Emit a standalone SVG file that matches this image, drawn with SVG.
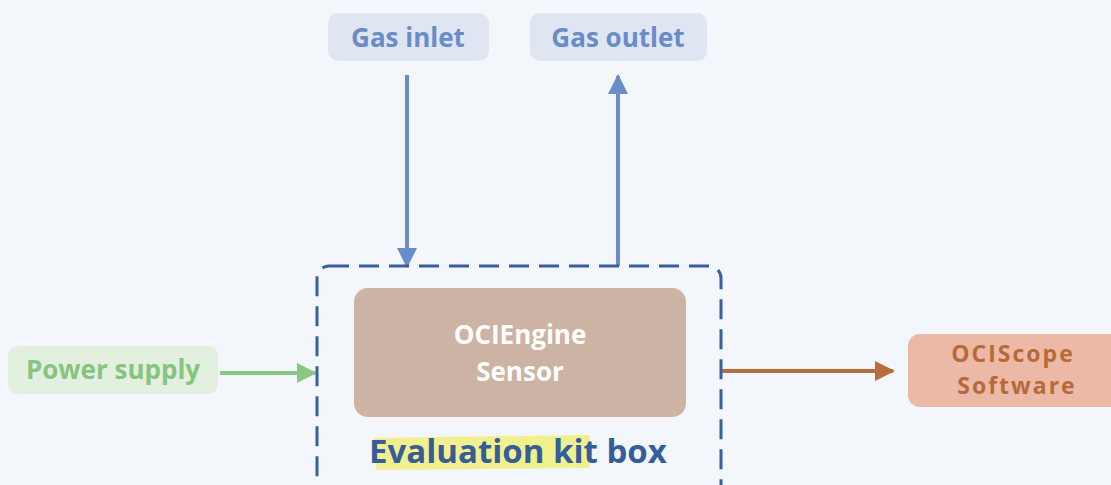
<svg xmlns="http://www.w3.org/2000/svg" width="1111" height="485" viewBox="0 0 1111 485">
<defs>
<style>
text{font-family:"Open Sans","DejaVu Sans",sans-serif;font-weight:700;text-anchor:middle}
.gas{fill:#dfe6f1}
.gast{fill:#6a8cc8;font-size:26px}
.sens{font-size:26px;fill:#ffffff}
.sw{fill:#b8693a;font-size:23px;letter-spacing:2px}
.conn{fill:none;stroke-width:4}
</style>
<marker id="ab" viewBox="0 0 10 10" refX="9" refY="5" markerWidth="5" markerHeight="5" markerUnits="strokeWidth" orient="auto"><path d="M0,0 L10,5 L0,10 z" fill="#6a8cc8"/></marker>
<marker id="ag" viewBox="0 0 10 10" refX="9" refY="5" markerWidth="5" markerHeight="5" markerUnits="strokeWidth" orient="auto"><path d="M0,0 L10,5 L0,10 z" fill="#8ac882"/></marker>
<marker id="ao" viewBox="0 0 10 10" refX="9" refY="5" markerWidth="5" markerHeight="5" markerUnits="strokeWidth" orient="auto"><path d="M0,0 L10,5 L0,10 z" fill="#b96c3d"/></marker>
</defs>
<rect width="1111" height="485" fill="#f3f6fa"/>
<g id="connectors">
<line class="conn" x1="407" y1="75" x2="407" y2="266" stroke="#6a8cc8" marker-end="url(#ab)"/>
<line class="conn" x1="618" y1="266" x2="618" y2="76" stroke="#6a8cc8" marker-end="url(#ab)"/>
<line class="conn" x1="220" y1="373" x2="315" y2="373" stroke="#8ac882" marker-end="url(#ag)"/>
<line class="conn" x1="721" y1="371" x2="893" y2="371" stroke="#b96c3d" marker-end="url(#ao)"/>
</g>
<g id="gas-inlet">
<rect class="gas" x="328" y="13" width="161" height="48" rx="10"/>
<text class="gast" x="408" y="47">Gas inlet</text>
</g>
<g id="gas-outlet">
<rect class="gas" x="530" y="13" width="177" height="48" rx="10"/>
<text class="gast" x="618" y="47">Gas outlet</text>
</g>
<g id="evaluation-kit-box">
<rect x="317" y="266" width="404" height="240" rx="12" fill="none" stroke="#3a5f9e" stroke-width="3" stroke-dasharray="20 10"/>
<path d="M375,440 L588,437 L588,466 L378,468 Z" fill="#f1f08f" stroke="#f1f08f" stroke-width="4" stroke-linejoin="round"/>
<text x="518" y="463" fill="#355d9a" font-size="33">Evaluation kit box</text>
</g>
<g id="ociengine-sensor">
<rect x="354" y="288" width="332" height="129" rx="14" fill="#cdb3a4"/>
<text class="sens" x="520" y="344">OCIEngine</text>
<text class="sens" x="520" y="381">Sensor</text>
</g>
<g id="power-supply">
<rect x="8" y="346" width="210" height="48" rx="10" fill="#e3efdf"/>
<text x="113" y="379" fill="#85c57f" font-size="26">Power supply</text>
</g>
<g id="ociscope-software">
<rect x="908" y="334" width="215" height="73" rx="12" fill="#ebb9a5"/>
<text class="sw" x="1013" y="362">OCIScope</text>
<text class="sw" x="1017" y="394">Software</text>
</g>
</svg>
